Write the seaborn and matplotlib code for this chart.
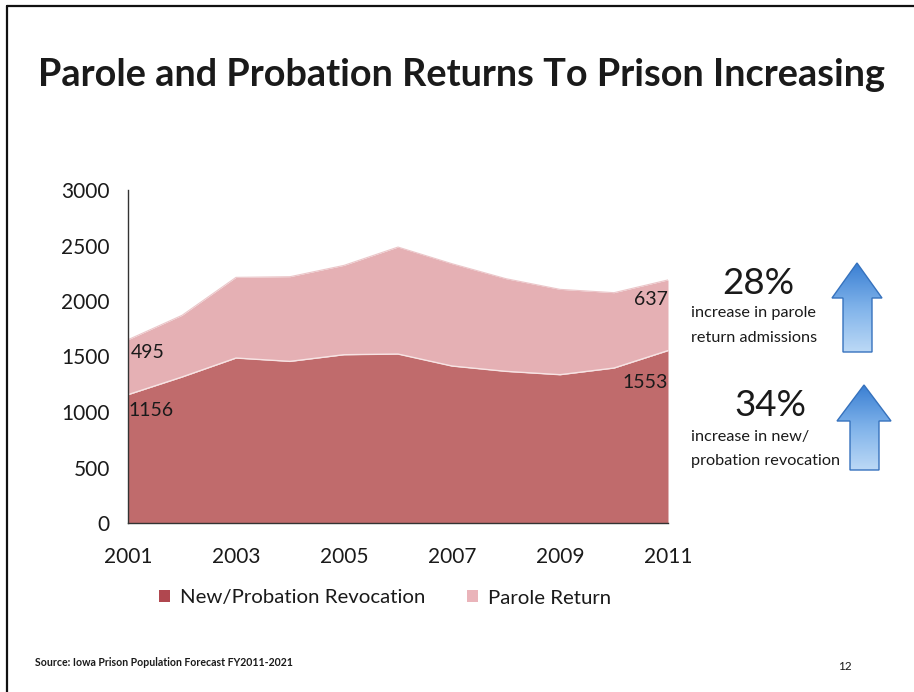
import numpy as np
import pandas as pd
import seaborn as sns
import matplotlib
matplotlib.use("Agg")
import matplotlib.pyplot as plt
from matplotlib.patches import Polygon, Patch
from matplotlib.lines import Line2D

# ---- data ----
years = [2001, 2002, 2003, 2004, 2005, 2006, 2007, 2008, 2009, 2010, 2011]
new_probation = [1156, 1315, 1486, 1456, 1516, 1522, 1414, 1366, 1336, 1396, 1553]
parole_return = [495, 556, 727, 763, 805, 964, 922, 835, 769, 679, 637]
series_names = ["New/Probation Revocation", "Parole Return"]
y_ticks = [0, 500, 1000, 1500, 2000, 2500, 3000]
x_ticks = [2001, 2003, 2005, 2007, 2009, 2011]
title = "Parole and Probation Returns To Prison Increasing"
stat_values = ["28%", "34%"]
stat_texts = [["increase in parole", "return admissions"],
              ["increase in new/", "probation revocation"]]
source = "Source: Iowa Prison Population Forecast FY2011-2021"
page_no = "12"

RED = "#C06B6C"
PINK = "#E5B0B4"
LEG_RED = "#B0474F"
LEG_PINK = "#EAB4BA"

sns.set_theme(style="white")
plt.rcParams['font.family'] = ['Lato', 'DejaVu Sans']

df = pd.DataFrame({"year": years, "new": new_probation, "parole": parole_return})
df["total"] = df["new"] + df["parole"]

W, H = 914, 692
fig = plt.figure(figsize=(W / 100, H / 100), dpi=100)
fig.patch.set_facecolor("white")

ax = fig.add_axes([128 / W, 1 - 523 / H, 540 / W, 333 / H])
ax.fill_between(df["year"], 0, df["new"], color=RED, lw=0, zorder=1)
ax.fill_between(df["year"], df["new"], df["total"], color=PINK, lw=0, zorder=1)
sns.lineplot(data=df, x="year", y="new", ax=ax, color="#F7E4E4", lw=1.0, zorder=2)
sns.lineplot(data=df, x="year", y="total", ax=ax, color="#EBC6C9", lw=0.8, zorder=2)

ax.set_xlim(years[0], years[-1])
ax.set_ylim(y_ticks[0], y_ticks[-1])
ax.set_xticks(x_ticks)
ax.set_xticklabels([str(x) for x in x_ticks])
ax.set_yticks(y_ticks)
ax.set_yticklabels([str(y) for y in y_ticks])
ax.set_xlabel("")
ax.set_ylabel("")
ax.tick_params(axis="both", length=0, labelsize=15, colors="#1a1a1a")
ax.tick_params(axis="y", pad=13)
ax.tick_params(axis="x", pad=17)
for s in ["top", "right"]:
    ax.spines[s].set_visible(False)
for s in ["left", "bottom"]:
    ax.spines[s].set_color("#333333")
    ax.spines[s].set_linewidth(1.0)
ax.set_facecolor("none")

# data labels
lab_kw = dict(textcoords="offset points", fontsize=14, color="#1a1a1a", zorder=5)
ax.annotate(str(new_probation[0]), (years[0], new_probation[0]), xytext=(0, -5),
            ha="left", va="top", **lab_kw)
ax.annotate(str(parole_return[0]), (years[0], df["total"].iloc[0]), xytext=(2, -3),
            ha="left", va="top", **lab_kw)
ax.annotate(str(new_probation[-1]), (years[-1], new_probation[-1]), xytext=(0, -17),
            ha="right", va="top", **lab_kw)
ax.annotate(str(parole_return[-1]), (years[-1], df["total"].iloc[-1]), xytext=(0, -8),
            ha="right", va="top", **lab_kw)

# legend
handles = [Patch(facecolor=LEG_RED, edgecolor="none"), Patch(facecolor=LEG_PINK, edgecolor="none")]
fig.legend(handles, series_names, loc="center", bbox_to_anchor=(385 / W, 1 - 598 / H),
           ncol=2, frameon=False, fontsize=14.7, handlelength=0.55, handleheight=0.55,
           handletextpad=0.5, columnspacing=2.0, labelcolor="#1a1a1a")

# overlay in pixel coordinates for decorations
ov = fig.add_axes([0, 0, 1, 1], zorder=10)
ov.set_xlim(0, W)
ov.set_ylim(H, 0)
ov.axis("off")
ov.patch.set_alpha(0)

# slide border
ov.add_line(Line2D([7, W], [6, 6], color="#111111", lw=1.6))
ov.add_line(Line2D([7, 7], [6, H], color="#111111", lw=1.6))

# title
ov.text(462, 75, title, ha="center", va="center", fontsize=27.3, fontweight="bold",
        color="#1a1a1a")

# right side stats
ov.text(758, 284, stat_values[0], ha="center", va="center", fontsize=26.5, color="#1a1a1a")
ov.text(691, 313, stat_texts[0][0], ha="left", va="center", fontsize=11.7, color="#1a1a1a")
ov.text(691, 338, stat_texts[0][1], ha="left", va="center", fontsize=11.7, color="#1a1a1a")
ov.text(770, 405, stat_values[1], ha="center", va="center", fontsize=26.5, color="#1a1a1a")
ov.text(691, 437, stat_texts[1][0], ha="left", va="center", fontsize=11.7, color="#1a1a1a")
ov.text(691, 461, stat_texts[1][1], ha="left", va="center", fontsize=11.7, color="#1a1a1a")

# arrows with gradient
grad = np.linspace(0, 1, 256).reshape(-1, 1)
cmap = matplotlib.colors.LinearSegmentedColormap.from_list("bl", ["#3A7FD3", "#80B3EA", "#BCD9F6"])


def up_arrow(xl, xr, ytip, yhead, ybot, sl, sr):
    cx = (xl + xr) / 2
    pts = [(cx, ytip), (xr, yhead), (sr, yhead), (sr, ybot), (sl, ybot), (sl, yhead), (xl, yhead)]
    poly = Polygon(pts, closed=True, facecolor="none", edgecolor="#3672BD", lw=1.0, zorder=12)
    ov.add_patch(poly)
    im = ov.imshow(grad, cmap=cmap, extent=(xl, xr, ybot, ytip), aspect="auto", zorder=11)
    im.set_clip_path(poly)


up_arrow(832, 882, 263, 298, 352, 843, 872)
up_arrow(837, 891, 385, 421, 470, 850, 879)
ov.set_xlim(0, W)
ov.set_ylim(H, 0)

# footer
ov.text(35, 663, source, ha="left", va="center", fontsize=7.6, fontweight="bold",
        color="#1a1a1a")
ov.text(838, 667, page_no, ha="left", va="center", fontsize=8.5, color="#1a1a1a")

fig.savefig("out.png", dpi=100, facecolor="white")
